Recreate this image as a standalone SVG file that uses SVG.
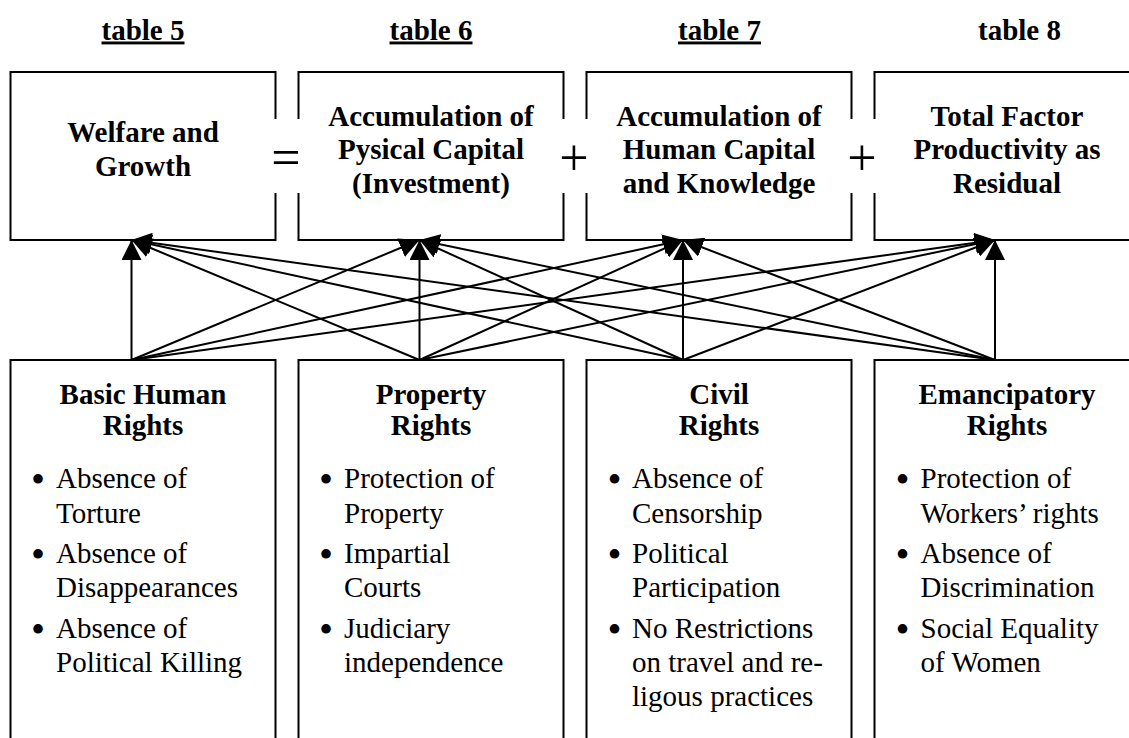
<svg xmlns="http://www.w3.org/2000/svg" width="1129" height="738" viewBox="0 0 1129 738">
<style>
.bx{fill:none;stroke:#000;stroke-width:2}
.hd{font-family:"Liberation Serif","Times New Roman",serif;font-weight:bold;font-size:29px;text-anchor:middle;fill:#000}
.tx{font-family:"Liberation Serif","Times New Roman",serif;font-size:29px;fill:#000}
.bu{font-family:"Liberation Serif","Times New Roman",serif;font-size:40px;text-anchor:middle;fill:#000}
.sym{font-family:"Liberation Serif","Times New Roman",serif;font-size:52px;text-anchor:middle;fill:#000}
.ul{text-decoration:underline}
#connectors line{stroke:#000;stroke-width:2;marker-end:url(#ah)}
</style>
<defs>
<marker id="ah" markerUnits="userSpaceOnUse" markerWidth="20" markerHeight="20" refX="20" refY="10" orient="auto" viewBox="0 0 20 20">
<path d="M0,0 L20,10 L0,20 z" fill="#000"/>
</marker>
</defs>
<rect width="1129" height="738" fill="#fff"/>

<g id="headings">
<text class="hd ul" x="143" y="39.5">table 5</text>
<text class="hd ul" x="431" y="39.5">table 6</text>
<text class="hd ul" x="719.5" y="39.5">table 7</text>
<text class="hd" x="1019.5" y="39.5">table 8</text>
</g>

<g id="welfare">
<path class="bx" d="M275.5,119 V72 H10.5 V240 H275.5 V193"/>
<text class="hd" x="143" y="142">Welfare and</text>
<text class="hd" x="143" y="175.5">Growth</text>
</g>
<text class="sym" x="286" y="175">=</text>

<g id="physical">
<path class="bx" d="M298.5,119 V72 H563.5 V119 M298.5,193 V240 H563.5 V193"/>
<text class="hd" x="431" y="125.5">Accumulation of</text>
<text class="hd" x="431" y="159">Pysical Capital</text>
<text class="hd" x="431" y="192.5">(Investment)</text>
</g>
<text class="sym" x="574" y="175">+</text>

<g id="human">
<path class="bx" d="M586.5,119 V72 H851.5 V119 M586.5,193 V240 H851.5 V193"/>
<text class="hd" x="719" y="125.5">Accumulation of</text>
<text class="hd" x="719" y="159">Human Capital</text>
<text class="hd" x="719" y="192.5">and Knowledge</text>
</g>
<text class="sym" x="862" y="175">+</text>

<g id="tfp">
<path class="bx" d="M874.5,119 V72 H1140 M874.5,193 V240 H1140"/>
<text class="hd" x="1007" y="125.5">Total Factor</text>
<text class="hd" x="1007" y="159">Productivity as</text>
<text class="hd" x="1007" y="192.5">Residual</text>
</g>

<g id="basic">
<path class="bx" d="M10.5,740 V360 H275.5 V740"/>
<text class="hd" x="143" y="404">Basic Human</text>
<text class="hd" x="143" y="435">Rights</text>
<text class="bu" x="38" y="493">•</text>
<text class="tx" x="56" y="488">Absence of</text>
<text class="tx" x="56" y="522.7">Torture</text>
<text class="bu" x="38" y="568">•</text>
<text class="tx" x="56" y="563">Absence of</text>
<text class="tx" x="56" y="597">Disappearances</text>
<text class="bu" x="38" y="643">•</text>
<text class="tx" x="56" y="638">Absence of</text>
<text class="tx" x="56" y="672">Political Killing</text>
</g>

<g id="property">
<path class="bx" d="M298.5,740 V360 H563.5 V740"/>
<text class="hd" x="431" y="404">Property</text>
<text class="hd" x="431" y="435">Rights</text>
<text class="bu" x="326" y="493">•</text>
<text class="tx" x="344" y="488">Protection of</text>
<text class="tx" x="344" y="522.7">Property</text>
<text class="bu" x="326" y="568">•</text>
<text class="tx" x="344" y="563">Impartial</text>
<text class="tx" x="344" y="597">Courts</text>
<text class="bu" x="326" y="643">•</text>
<text class="tx" x="344" y="638">Judiciary</text>
<text class="tx" x="344" y="672">independence</text>
</g>

<g id="civil">
<path class="bx" d="M586.5,740 V360 H851.5 V740"/>
<text class="hd" x="719" y="404">Civil</text>
<text class="hd" x="719" y="435">Rights</text>
<text class="bu" x="614.5" y="493">•</text>
<text class="tx" x="632" y="488">Absence of</text>
<text class="tx" x="632" y="522.7">Censorship</text>
<text class="bu" x="614.5" y="568">•</text>
<text class="tx" x="632" y="563">Political</text>
<text class="tx" x="632" y="597">Participation</text>
<text class="bu" x="614.5" y="643">•</text>
<text class="tx" x="632" y="638">No Restrictions</text>
<text class="tx" x="632" y="672">on travel and re-</text>
<text class="tx" x="632" y="706">ligous practices</text>
</g>

<g id="emancipatory">
<path class="bx" d="M874.5,740 V360 H1140"/>
<text class="hd" x="1007" y="404">Emancipatory</text>
<text class="hd" x="1007" y="435">Rights</text>
<text class="bu" x="902.5" y="493">•</text>
<text class="tx" x="920.5" y="488">Protection of</text>
<text class="tx" x="920.5" y="522.7">Workers’ rights</text>
<text class="bu" x="902.5" y="568">•</text>
<text class="tx" x="920.5" y="563">Absence of</text>
<text class="tx" x="920.5" y="597">Discrimination</text>
<text class="bu" x="902.5" y="643">•</text>
<text class="tx" x="920.5" y="638">Social Equality</text>
<text class="tx" x="920.5" y="672">of Women</text>
</g>

<g id="connectors">
<line x1="131.5" y1="360" x2="131.5" y2="240"/>
<line x1="419.5" y1="360" x2="131.5" y2="240"/>
<line x1="683" y1="360" x2="131.5" y2="240"/>
<line x1="995" y1="360" x2="131.5" y2="240"/>
<line x1="131.5" y1="360" x2="419.5" y2="240"/>
<line x1="419.5" y1="360" x2="419.5" y2="240"/>
<line x1="683" y1="360" x2="419.5" y2="240"/>
<line x1="995" y1="360" x2="419.5" y2="240"/>
<line x1="131.5" y1="360" x2="683" y2="240"/>
<line x1="419.5" y1="360" x2="683" y2="240"/>
<line x1="683" y1="360" x2="683" y2="240"/>
<line x1="995" y1="360" x2="683" y2="240"/>
<line x1="131.5" y1="360" x2="995" y2="240"/>
<line x1="419.5" y1="360" x2="995" y2="240"/>
<line x1="683" y1="360" x2="995" y2="240"/>
<line x1="995" y1="360" x2="995" y2="240"/>
</g>
</svg>
